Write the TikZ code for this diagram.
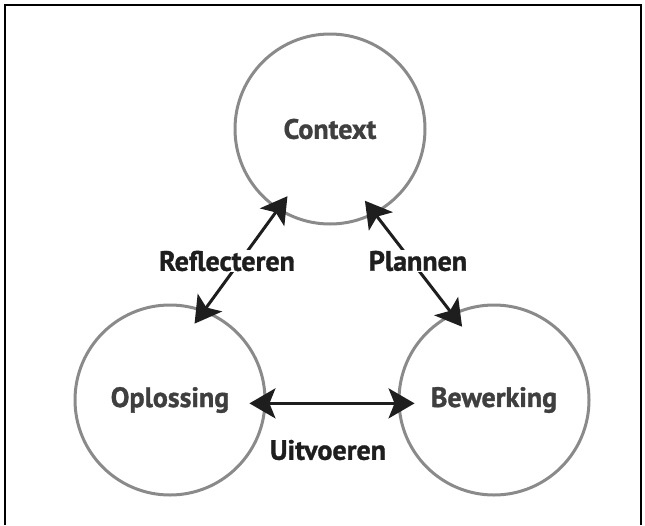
\documentclass[tikz,border=0pt]{standalone}
\usepackage{fontspec}
\setmainfont{PT Sans}[BoldFeatures={FakeBold=1.2}]
\usetikzlibrary{arrows.meta}
\definecolor{ringgray}{HTML}{8A8A8A}
\definecolor{phasegray}{HTML}{3F3F3F}
\definecolor{stepblack}{HTML}{1E1E1E}
\tikzset{
  phase/.style={draw=ringgray, line width=3pt, circle, minimum size=190pt, inner sep=0pt,
    text=phasegray, font=\fontsize{28}{30}\selectfont\bfseries},
  steplabel/.style={text=stepblack, font=\fontsize{28}{30}\selectfont\bfseries, inner sep=1pt},
  flow/.style={stepblack, line width=3pt, {Stealth[length=26pt,width=30pt,inset=6pt]}-{Stealth[length=26pt,width=30pt,inset=6pt]},
    shorten <=-17pt, shorten >=-17pt}
}
\begin{document}
\begin{tikzpicture}[x=1pt,y=-1pt]
\useasboundingbox (0,0) rectangle (645,525);
\draw[line width=2pt] (5,525) -- (5,5) -- (641,5) -- (641,525);

\node(ctx) at (330,129) [phase]{Context};
\node(opl) at (170,400) [phase]{Oplossing};
\node(bew) at (494,400) [phase]{Bewerking};

\draw [flow] (opl.69) -- (ctx.237);
\draw [flow] (ctx.298) -- (bew.116);
\draw [flow] (opl.358) -- (bew.182);

\node(refl) at (227,261) [steplabel, fill=white]{Reflecteren};
\node(plan) at (418,261) [steplabel, fill=white]{Plannen};
\node(uitv) at (328,450) [steplabel]{Uitvoeren};

\end{tikzpicture}
\end{document}
